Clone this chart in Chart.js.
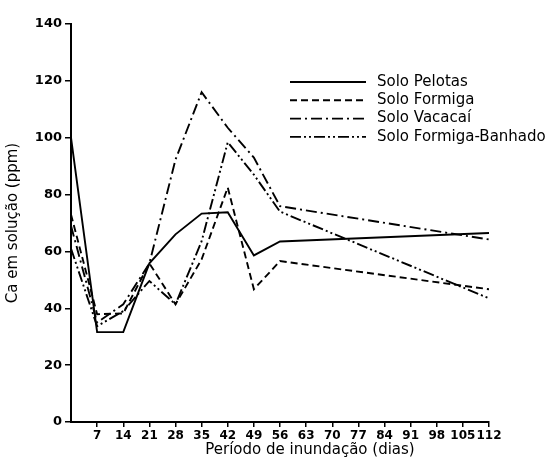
<!DOCTYPE html>
<html>
<head>
<meta charset="utf-8">
<script src="https://cdn.jsdelivr.net/npm/chart.js@4/dist/chart.umd.min.js"></script>
<style>
  html, body { margin: 0; padding: 0; background: #fff; }
  #wrap { width: 549px; height: 464px; }
</style>
</head>
<body>
<div id="wrap"><canvas id="c" width="549" height="464"></canvas></div>
<script>
// Days of flooding (x positions of readings)
const days = [0, 7, 14, 21, 28, 35, 42, 49, 56, 112];
// Ca in solution (ppm)
const pelotas  = [100, 31.6, 31.6, 55.8, 66, 73.3, 73.8, 58.6, 63.5, 66.5];
const formiga  = [73, 37.9, 38.2, 55.8, 41.4, 57.2, 82.5, 46.7, 56.6, 46.7];
const vacacai  = [69, 35, 41.4, 55.8, 92.3, 116, 103.5, 93, 75.9, 64.2];
const banhado  = [61, 33.7, 39, 49.6, 41.4, 63.6, 98.4, 87, 74, 43.5];
const seriesLabels = ['Solo Pelotas', 'Solo Formiga', 'Solo Vacacaí', 'Solo Formiga-Banhado'];
const yTicks = [0, 20, 40, 60, 80, 100, 120, 140];
const xTicks = [7, 14, 21, 28, 35, 42, 49, 56, 63, 70, 77, 84, 91, 98, 105, 112];
const xTitle = 'Período de inundação (dias)';
const yTitle = 'Ca em solução (ppm)';

const FONT = '"DejaVu Sans", sans-serif';
const toPts = vals => vals.map((v, i) => ({ x: days[i], y: v }));

const dashes = [[], [7, 4], [11, 4, 2, 4], [11, 3, 2, 3, 2, 3]];
const allSeries = [pelotas, formiga, vacacai, banhado];

const datasets = allSeries.map((vals, i) => ({
  label: seriesLabels[i],
  data: toPts(vals),
  borderColor: '#000',
  borderWidth: 1.9,
  borderDash: dashes[i],
  pointRadius: 0,
  fill: false,
  tension: 0
}));

const annotPlugin = {
  id: 'innerLegend',
  afterDatasetsDraw(chart) {
    const ctx = chart.ctx;
    ctx.save();
    ctx.font = '15px ' + FONT;
    ctx.fillStyle = '#000';
    ctx.textBaseline = 'middle';
    chart.data.datasets.forEach((ds, i) => {
      const y = 82 + i * 18.3;
      ctx.beginPath();
      ctx.setLineDash(ds.borderDash);
      ctx.lineWidth = 1.9;
      ctx.strokeStyle = '#000';
      ctx.moveTo(290, y);
      ctx.lineTo(366, y);
      ctx.stroke();
      ctx.setLineDash([]);
      ctx.fillText(ds.label, 377, y);
    });
    // x-axis title
    ctx.textAlign = 'center';
    ctx.font = '15px ' + FONT;
    ctx.fillText(xTitle, 310, 450);
    ctx.restore();
  }
};

new Chart(document.getElementById('c'), {
  type: 'line',
  data: { datasets },
  options: {
    responsive: false,
    animation: false,
    layout: { padding: { left: 0, top: 24, right: 60, bottom: 0 } },
    plugins: { legend: { display: false }, tooltip: { enabled: false } },
    scales: {
      x: {
        type: 'linear',
        min: 0, max: 112,
        afterFit(s) { s.height = 42; },
        afterBuildTicks(s) { s.ticks = xTicks.map(v => ({ value: v })); },
        grid: { drawOnChartArea: false, drawTicks: true, tickLength: 5, color: '#000', lineWidth: 1.5 },
        border: { display: true, color: '#000', width: 2 },
        ticks: { color: '#000', font: { family: FONT, size: 12, weight: 'bold' }, padding: 2, maxRotation: 0, autoSkip: false },
        title: { display: false }
      },
      y: {
        min: 0, max: 140,
        afterFit(s) { s.width = 71; },
        afterBuildTicks(s) { s.ticks = yTicks.map(v => ({ value: v })); },
        grid: { drawOnChartArea: false, drawTicks: true, tickLength: 6, color: '#000', lineWidth: 1.5 },
        border: { display: true, color: '#000', width: 2 },
        ticks: { color: '#000', font: { family: FONT, size: 13, weight: 'bold' }, padding: 3 },
        title: { display: true, text: yTitle, color: '#000', font: { family: FONT, size: 15 }, padding: { top: 4, bottom: 2 } }
      }
    }
  },
  plugins: [annotPlugin]
});
</script>
</body>
</html>
